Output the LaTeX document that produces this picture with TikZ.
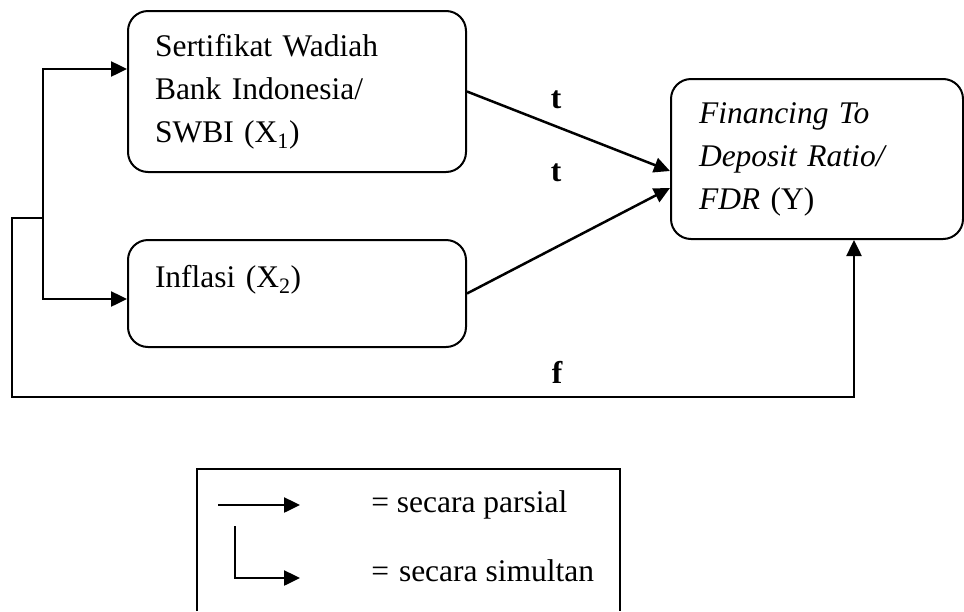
\documentclass[tikz,border=0pt]{standalone}
\usepackage{fontspec}
\setmainfont{Liberation Serif}
\usetikzlibrary{arrows.meta}

\begin{document}
\begin{tikzpicture}[x=1pt,y=-1pt,line width=2.5pt,-{Triangle[length=16pt,width=15pt]}]
  \def\fs{\fontsize{31.5}{43}\selectfont}

\tikzstyle{box}=[draw,-,rounded corners=20pt,line width=2pt,anchor=north west,align=left,inner ysep=0pt,font=\fs]
\tikzstyle{lbl}=[font=\fs\bfseries]
\useasboundingbox (0,0) rectangle (964,611);

\node[box,text width=284pt,inner xsep=27pt,minimum width=338pt,minimum height=161pt] (X1) at (127,10) {Sertifikat Wadiah\\Bank Indonesia/\\SWBI (X\textsubscript{1})};
\node[box,text width=284pt,inner xsep=27pt,minimum width=338pt,text height=47pt,text depth=60pt] (X2) at (127,239) {Inflasi (X\textsubscript{2})};
\node[box,text width=236pt,inner xsep=28pt,minimum width=292pt,minimum height=160pt] (Y) at (670,78) {\textit{Financing To}\\\textit{Deposit Ratio/}\\\textit{FDR} (Y)};

% partial
\draw (X1.east) -- ([yshift=-12pt]Y.west);
\draw (X2.east) -- ([yshift=-29pt]Y.west);
\node[lbl] (t1) at (556,100) {t};
\node[lbl] (t2) at (556,173) {t};

% simultaneous
\coordinate (S) at (43,218);
\coordinate (C) at (12,397);
\draw (S) |- ([yshift=22.5pt]X1.west);
\draw (S) |- ([yshift=-5.5pt]X2.west);
\draw (S) -| (C) -| ([xshift=37pt]Y.south);
\node[lbl] (f) at (557,372) {f};

% legend
\draw[-,line width=2pt] (197,611) -- (197,469) -- (620,469) -- (620,611);
\coordinate (a1) at (218,505);
\coordinate (a2) at (300,505);
\draw (a1) -- (a2);
\coordinate (b1) at (235,526);
\coordinate (b2) at (300,578);
\draw (b1) |- (b2);
\node[anchor=base west,inner sep=0pt,font=\fs] (L1) at (370,512) {= secara parsial};
\node[anchor=base west,inner sep=0pt,font=\fs] (L2) at (370,581) {=\hspace{10pt}secara\hspace{8pt}simultan};
\end{tikzpicture}
\end{document}
